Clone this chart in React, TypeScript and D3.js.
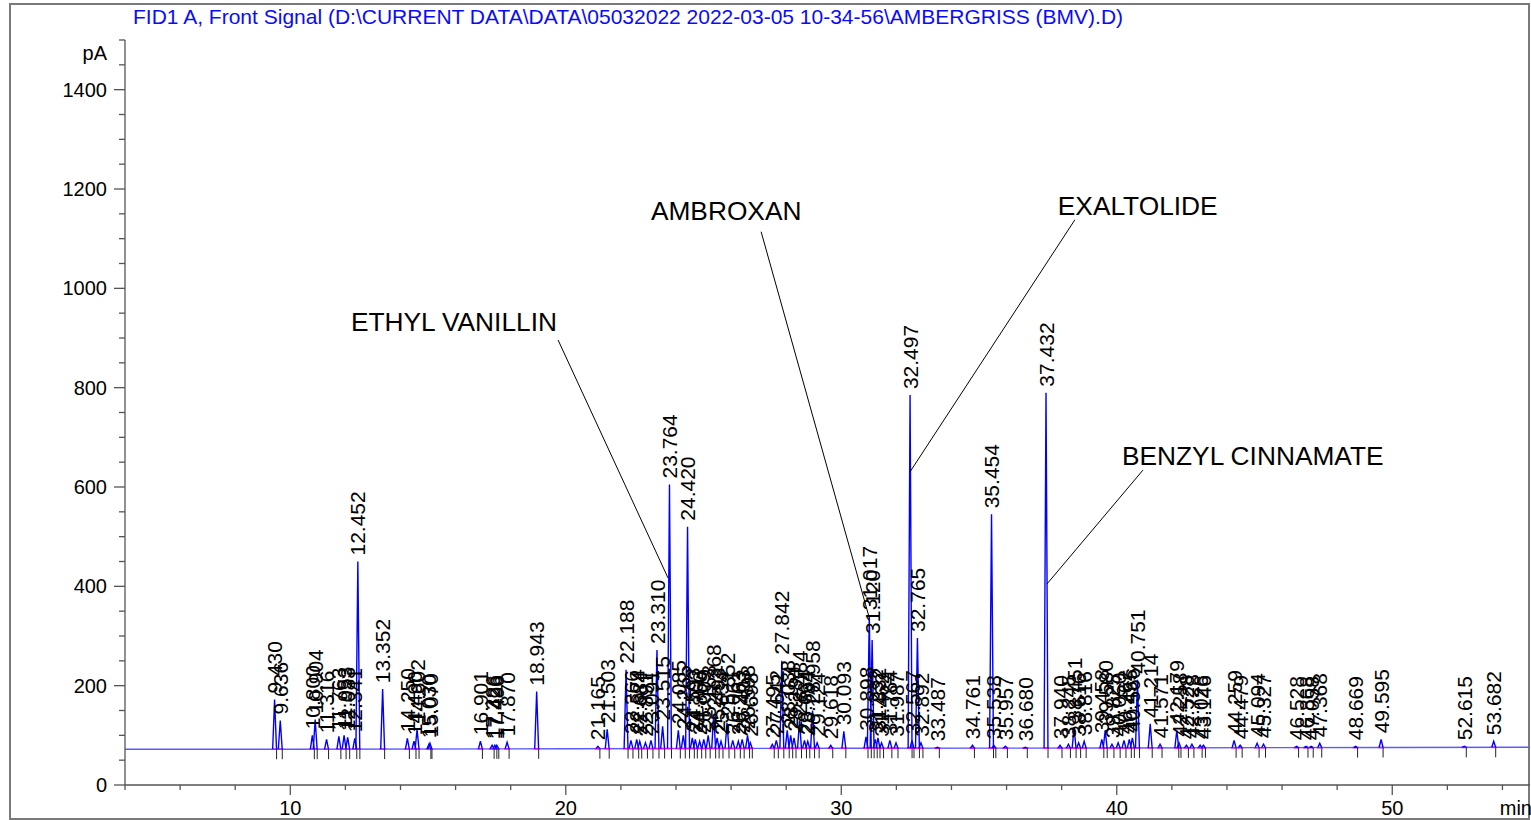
import React from "react";
import * as d3 from "d3";

// retention times (min) and apex heights (pA)
const peakTimes = [
  9.43, 9.636, 10.8, 10.904, 11.316, 11.763, 11.953, 12.083, 12.341, 12.452,
  13.352, 14.25, 14.49, 14.602, 15.03, 15.07, 16.901, 17.326, 17.426, 17.496,
  17.87, 18.943,
  21.165, 21.503, 22.188, 22.366, 22.574, 22.684, 22.891, 23.091, 23.31, 23.515,
  23.764, 24.085, 24.265, 24.42, 24.593, 24.702, 24.86, 25.009, 25.168, 25.368,
  25.493, 25.634, 25.852, 26.061, 26.263, 26.403, 26.598, 26.698, 27.495, 27.642,
  27.842, 28.038, 28.164, 28.284, 28.484, 28.664, 28.784, 28.958, 29.124, 29.618,
  30.093,
  30.898, 31.017, 31.12, 31.232, 31.332, 31.462, 31.764, 31.987, 32.497, 32.567,
  32.765, 32.892, 33.487, 34.761, 35.454, 35.538, 35.957, 36.68, 37.432,
  37.94, 38.245, 38.451, 38.616, 38.816, 39.458, 39.58, 39.825, 40.05, 40.262,
  40.455, 40.566, 40.751, 41.214, 41.571, 42.179, 42.258, 42.528, 42.728, 43.026,
  43.146, 44.259, 44.479, 45.094, 45.327, 46.528, 46.868, 47.058, 47.368, 48.669,
  49.595, 52.615, 53.682,
];
const peakHeights = [
  172, 130, 100, 132, 92, 98, 100, 96, 94, 450,
  193, 94, 88, 112, 82, 84, 88, 80, 80, 80,
  86, 188,
  78, 112, 232, 90, 92, 88, 85, 90, 272, 118,
  605, 110, 100, 520, 95, 92, 88, 92, 100, 142,
  95, 88, 125, 90, 88, 92, 100, 85, 82, 90,
  250, 110, 100, 95, 130, 90, 88, 150, 85, 80,
  108,
  97, 340, 292, 92, 95, 85, 90, 85, 785, 90,
  296, 85, 76, 80, 545, 80, 78, 76, 790,
  80, 82, 115, 85, 88, 92, 110, 82, 85, 90,
  92, 95, 212, 123, 82, 110, 85, 80, 82, 80,
  80, 90, 80, 84, 82, 78, 78, 78, 84, 78,
  92, 78, 88,
];

// detector baseline drift
const baselineTimes = [4, 10, 20, 30, 40, 50, 55];
const baselineValues = [72, 72, 73, 74, 74.5, 75.5, 76];

const yMajorTicks = [0, 200, 400, 600, 800, 1000, 1200, 1400];
const xMajorTicks = [10, 20, 30, 40, 50];

// compound annotations: text anchor and leader line, in (min, pA)
const annotationNames = ["ETHYL VANILLIN", "AMBROXAN", "EXALTOLIDE", "BENZYL CINNAMATE"];
const annotationText = [[12.2, 914], [23.09, 1138], [37.86, 1148], [40.19, 644]];
const annotationFrom = [[19.72, 896], [27.09, 1114], [38.48, 1138], [40.95, 634]];
const annotationTo = [[23.71, 417], [31.01, 338], [32.49, 630], [37.47, 405]];

const title =
  "FID1 A, Front Signal (D:\\CURRENT DATA\\DATA\\05032022 2022-03-05 10-34-56\\AMBERGRISS (BMV).D)";

const W = 1531;
const H = 820;
const font = "'Liberation Sans', Arial, sans-serif";

export default function App() {
  const x = d3.scaleLinear().domain([4, 55]).range([125, 1530]);
  const y = d3.scaleLinear().domain([0, 1500]).range([785, 40]);
  const base = d3.scaleLinear().domain(baselineTimes).range(baselineValues);

  const line = d3
    .line<[number, number]>()
    .x((d) => x(d[0]))
    .y((d) => y(d[1]));

  const hw = 0.07;
  const peaks = peakTimes.map((t, i) => ({ t, h: peakHeights[i], b: base(t) }));

  const baselinePts = baselineTimes.map((t, i) => [t, baselineValues[i]] as [number, number]);
  const xMinor = d3.range(4, 55, 2).filter((v) => !xMajorTicks.includes(v));
  const yMinor = d3.range(0, 1501, 50).filter((v) => !yMajorTicks.includes(v));

  return (
    <svg
      width={W}
      height={H}
      style={{ position: "absolute", left: 0, top: 0, display: "block", background: "#fff" }}
      fontFamily={font}
    >
      {/* frame */}
      <rect x={10} y={4} width={1519} height={815} fill="none" stroke="#7a7a7a" strokeWidth={2} />

      <text x={133} y={24} fill="#0a0aff" fontSize={21}>
        {title}
      </text>

      {/* signal baseline */}
      <path d={line(baselinePts) ?? ""} fill="none" stroke="#5a5aff" strokeWidth={1.3} />

      {/* integration baselines */}
      {peaks.map((p, i) => (
        <path
          key={"m" + i}
          d={line([[p.t - hw * 1.6, p.b], [p.t + hw * 1.6, p.b]]) ?? ""}
          stroke="#ff00ff"
          strokeWidth={1.5}
        />
      ))}

      {/* peaks */}
      {peaks.map((p, i) => (
        <path
          key={"p" + i}
          d={line([[p.t - hw, p.b], [p.t, p.h], [p.t + hw, p.b]]) ?? ""}
          fill="none"
          stroke="#0000ff"
          strokeWidth={1.4}
        />
      ))}

      {/* peak markers */}
      {peaks.map((p, i) => (
        <line
          key={"k" + i}
          x1={x(p.t) + 2}
          x2={x(p.t) + 2}
          y1={y(p.b)}
          y2={y(p.b) + 10}
          stroke="#222"
          strokeWidth={1}
        />
      ))}

      {/* retention time labels */}
      {peaks.map((p, i) => (
        <text
          key={"l" + i}
          transform={`translate(${x(p.t)},${y(p.h) - 6}) rotate(-90)`}
          dy="0.36em"
          fontSize={21}
          fill="#000"
        >
          {p.t.toFixed(3)}
        </text>
      ))}

      {/* annotations */}
      {annotationNames.map((name, i) => (
        <g key={"a" + i}>
          <line
            x1={x(annotationFrom[i][0])}
            y1={y(annotationFrom[i][1])}
            x2={x(annotationTo[i][0])}
            y2={y(annotationTo[i][1])}
            stroke="#000"
            strokeWidth={1}
          />
          <text x={x(annotationText[i][0])} y={y(annotationText[i][1])} fontSize={26.3} fill="#000">
            {name}
          </text>
        </g>
      ))}

      {/* y axis */}
      <line x1={x(4)} x2={x(4)} y1={y(0)} y2={y(1500)} stroke="#555" strokeWidth={1.3} />
      {yMajorTicks.map((v) => (
        <g key={"ym" + v}>
          <line x1={x(4) - 11} x2={x(4)} y1={y(v)} y2={y(v)} stroke="#555" strokeWidth={1.3} />
          <text x={x(4) - 18} y={y(v)} dy="0.35em" textAnchor="end" fontSize={20} fill="#000">
            {v}
          </text>
        </g>
      ))}
      {yMinor.map((v) => (
        <line key={"yn" + v} x1={x(4) - 6} x2={x(4)} y1={y(v)} y2={y(v)} stroke="#555" strokeWidth={1.3} />
      ))}
      <text x={x(4) - 18} y={y(1500) + 20} textAnchor="end" fontSize={20} fill="#000">
        pA
      </text>

      {/* x axis */}
      <line x1={x(4)} x2={x(55)} y1={y(0)} y2={y(0)} stroke="#555" strokeWidth={1.3} />
      {xMajorTicks.map((v) => (
        <g key={"xm" + v}>
          <line x1={x(v)} x2={x(v)} y1={y(0)} y2={y(0) + 10} stroke="#555" strokeWidth={1.3} />
          <text x={x(v)} y={y(0) + 30} textAnchor="middle" fontSize={20} fill="#000">
            {v}
          </text>
        </g>
      ))}
      {xMinor.map((v) => (
        <line key={"xn" + v} x1={x(v)} x2={x(v)} y1={y(0)} y2={y(0) + 5} stroke="#555" strokeWidth={1.3} />
      ))}
      <text x={x(55) + 2} y={y(0) + 30} textAnchor="end" fontSize={20} fill="#000">
        min
      </text>
    </svg>
  );
}
